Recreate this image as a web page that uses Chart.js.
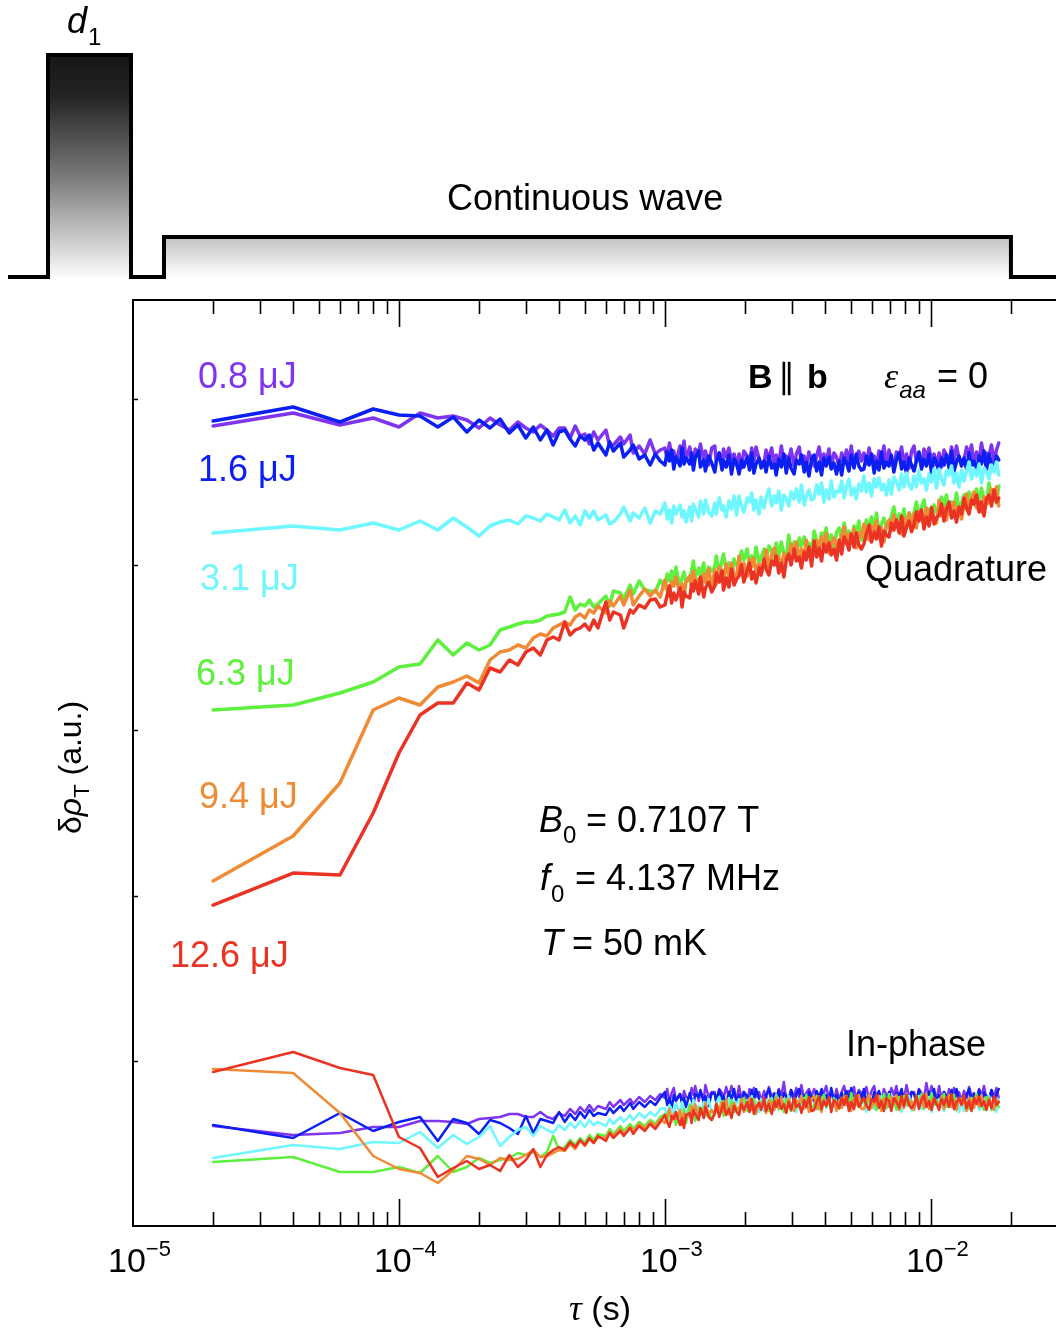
<!DOCTYPE html>
<html><head><meta charset="utf-8">
<script src="https://cdn.jsdelivr.net/npm/chart.js@4.4.1/dist/chart.umd.min.js"></script>
<style>
html,body{margin:0;padding:0;background:#fff;overflow:hidden;width:1056px;height:1329px;}
#wrap{position:absolute;left:0;top:0;width:1100px;height:1329px;}
</style></head><body>
<div id="wrap"><canvas id="c" width="1100" height="1329"></canvas></div>
<script>
// delay time tau in microseconds (sampling grid)
const tauUs = [20,40,60,80,100,120,140,160,180,200,
220,240,260,280,300,320,340,360,380,400,
420,440,460,480,500,520,540,560,
600,620,640,680,700,740,760,800,840,880,
920,960,
1000,1020,1040,1060,1080,1100,1140,1160,1180,1200,
1240,1260,1280,1300,1340,1360,1400,1420,1460,1500,
1540,1560,1600,1640,1660,1700,1740,1780,1820,1860,
1900,1940,1980,2040,2080,2120,2160,2200,2260,2300,
2360,2400,2460,2520,2580,2620,2680,2740,2800,2860,
2920,2980,3060,3120,3200,3260,3340,3400,3480,3560,
3640,3720,3800,3880,3960,4040,4140,4220,4320,4420,
4520,4620,4720,4820,4920,5020,5140,5240,5360,5480,
5600,5720,5860,5980,6120,6240,6380,6520,6660,6800,
6960,7100,7260,7420,7600,7760,7920,8100,8280,8460,
8640,8820,9020,9220,9420,9620,9840,10060,10280,10500,
10740,10960,11200,11440,11700,11960,12220,12480,12760,13040,
13320,13620,13920,14220,14520,14840,15180,15500,15840,16180,
16540,16900,17280,17640,18000];

const energies = ['0.8 μJ','1.6 μJ','3.1 μJ','6.3 μJ','9.4 μJ','12.6 μJ'];
const colors = ['#7f35f0','#0b1ff2','#6ff7ff','#5df03c','#f08b35','#eb3324'];

// Quadrature signal (a.u.)
const q08 = [800,813,801,808,799,813,808,810,806,798,
808,801,796,804,798,794,801,796,790,798,
798,788,800,790,792,782,794,786,
796,780,781,789,782,791,773,780,772,786,
772,776,
778,767,783,771,775,764,780,772,785,766,
779,769,763,777,773,782,765,775,761,778,
780,764,773,760,777,769,778,766,772,761,
772,758,775,770,762,778,765,779,767,763,
763,776,767,778,759,771,762,780,764,770,
766,777,760,772,779,763,770,759,774,767,
760,770,779,762,772,765,777,758,773,769,
759,773,766,776,763,780,760,769,775,765,
773,762,778,766,770,759,775,767,780,761,
776,766,760,774,770,779,762,772,758,775,
780,764,773,760,777,769,778,766,772,761,
773,759,776,771,763,779,766,780,768,764,
766,779,770,781,762,774,765,783,767,773,
770,781,764,776,783];
const q16 = [805,819,804,817,811,810,799,809,794,806,
798,807,793,801,788,799,786,796,781,794,
796,787,780,790,786,791,776,783,
771,784,775,783,769,776,781,767,771,761,
772,765,
761,774,765,776,757,769,760,778,762,768,
762,773,756,768,775,759,766,755,770,763,
754,764,773,756,766,759,771,752,767,763,
752,766,759,769,756,773,753,762,768,758,
765,754,770,758,762,751,767,759,772,753,
768,758,752,766,762,771,754,764,750,767,
771,755,764,751,768,760,769,757,763,752,
765,751,768,763,755,771,758,772,760,756,
757,770,761,772,753,765,756,774,758,764,
760,771,754,766,773,757,764,753,768,761,
755,765,774,757,767,760,772,753,768,764,
754,768,761,771,758,775,755,764,770,760,
768,757,773,761,765,754,770,762,775,756,
772,762,756,770,766];
const q31 = [693,700,696,703,696,705,696,708,699,690,
700,704,706,702,710,708,705,712,709,706,
716,703,710,701,715,708,715,706,
711,702,704,712,719,705,713,708,718,703,
715,712,
723,707,716,703,720,712,721,709,715,704,
719,705,722,717,709,725,712,726,714,710,
723,712,728,716,720,709,725,717,730,711,
730,720,714,728,724,733,716,726,712,729,
718,728,737,720,730,723,735,716,731,727,
720,734,727,737,724,741,721,730,736,726,
728,741,732,743,724,736,727,745,729,735,
734,745,728,740,747,731,738,727,742,735,
750,734,743,730,747,739,748,736,742,731,
746,732,749,744,736,752,739,753,741,737,
750,739,755,743,747,736,752,744,757,738,
757,747,741,755,751,760,743,753,739,756,
745,755,764,747,757,750,762,743,758,754,
747,761,754,764,751];
const q63 = [516,521,533,544,559,562,586,571,583,576,
581,596,599,602,604,604,606,610,611,612,
614,629,616,622,620,626,619,622,
630,620,635,633,627,641,632,645,636,635,
634,646,
638,652,645,655,642,659,639,648,654,644,
646,656,665,648,658,651,663,644,659,655,
659,670,653,665,672,656,663,652,667,660,
662,675,666,677,658,670,661,679,663,669,
677,663,680,675,667,683,670,684,672,668,
691,675,684,671,688,680,689,677,683,672,
695,685,679,693,689,698,681,691,677,694,
698,687,703,691,695,684,700,692,705,686,
692,706,699,709,696,713,693,702,708,698,
700,710,719,702,712,705,717,698,713,709,
713,724,707,719,726,710,717,706,721,714,
716,729,720,731,712,724,715,733,717,723,
731,717,734,729,721,737,724,738,726,722,
743,727,736,723,740];
const q94 = [345,390,443,516,528,521,539,544,550,543,
566,574,576,581,578,588,592,590,598,601,
604,601,609,612,608,616,613,620,
613,625,620,630,621,636,621,630,637,630,
636,629,
646,636,630,644,640,649,632,642,628,645,
650,639,655,643,647,636,652,644,657,638,
656,642,659,654,646,662,649,663,651,647,
670,654,663,650,667,659,668,656,662,651,
665,676,659,671,678,662,669,658,673,666,
669,682,673,684,665,677,668,686,670,676,
672,686,679,689,676,693,673,682,688,678,
680,690,699,682,692,685,697,678,693,689,
702,692,686,700,696,705,688,698,684,701,
706,695,711,699,703,692,708,700,713,694,
712,698,715,710,702,718,705,719,707,703,
726,710,719,706,723,715,724,712,718,707,
721,732,715,727,734,718,725,714,729,722,
724,737,728,739,720];
const q126 = [321,353,351,413,473,511,523,523,543,536,
558,554,566,561,574,578,571,586,589,586,
604,591,596,598,602,596,606,598,
624,606,614,611,598,616,613,621,618,626,
627,619,
621,631,640,623,633,626,638,619,634,630,
628,642,635,645,632,649,629,638,644,634,
640,653,644,655,636,648,639,657,641,647,
650,661,644,656,663,647,654,643,658,651,
667,657,651,665,661,670,653,663,649,666,
672,661,677,665,669,658,674,666,679,660,
685,669,678,665,682,674,683,671,677,666,
686,672,689,684,676,692,679,693,681,677,
682,692,701,684,694,687,699,680,695,691,
689,703,696,706,693,710,690,699,705,695,
701,714,705,716,697,709,700,718,702,708,
711,722,705,717,724,708,715,704,719,712,
728,718,712,726,722,731,714,724,710,727,
731,720,736,724,728];

// In-phase signal (a.u.)
const i08 = [100,91,93,99,99,105,105,104,102,107,
108,109,112,112,109,109,114,109,107,113,
110,117,112,119,114,121,115,120,
117,124,119,126,121,127,122,129,124,130,
126,132,
128,137,124,133,138,126,132,123,135,129,
128,138,131,140,125,134,127,141,129,134,
134,124,137,133,127,139,129,140,130,127,
140,127,134,124,137,131,138,129,134,125,
135,127,139,130,133,124,137,130,144,126,
125,136,130,138,128,141,126,133,137,130,
137,130,125,136,133,140,127,134,124,137,
126,134,140,127,135,130,139,124,136,133,
130,139,126,135,140,128,134,125,137,131,
128,138,131,140,125,134,127,141,129,134,
134,124,137,133,127,143,129,140,130,127,
140,127,134,124,137,131,138,129,134,125,
135,127,139,130,133,124,137,130,140,126,
125,136,130,138,128];
const i16 = [101,88,113,95,104,109,85,107,103,92,
106,103,98,92,110,93,107,105,103,114,
104,112,106,114,108,116,110,113,
111,118,113,120,115,123,117,124,119,125,
121,128,
134,121,128,118,131,125,132,123,128,119,
133,126,121,132,129,136,123,130,120,133,
132,124,136,127,130,121,134,127,137,123,
131,121,134,130,124,136,126,137,127,124,
123,131,137,124,132,127,136,121,133,130,
127,136,123,132,137,125,131,122,134,128,
125,135,128,137,122,131,124,138,126,131,
122,133,127,135,125,138,123,130,134,127,
137,124,131,121,134,128,135,126,131,122,
134,127,122,133,130,137,124,131,121,134,
132,124,136,127,130,121,134,127,137,123,
131,121,134,130,124,136,126,137,127,124,
123,131,137,124,132,127,136,121,133,130,
127,136,123,132,137];
const i31 = [68,81,77,84,83,94,78,91,82,89,
100,80,89,96,99,90,100,96,93,101,
96,103,98,105,99,106,101,104,
100,107,102,109,104,111,106,113,108,114,
110,117,
118,108,121,117,111,123,113,124,114,111,
122,114,126,117,120,111,124,117,127,113,
115,123,129,116,124,119,128,113,125,122,
127,120,115,126,123,130,117,124,114,127,
115,126,120,128,118,131,116,123,127,120,
130,117,124,114,127,121,128,119,124,115,
120,129,116,125,130,118,124,115,127,121,
118,128,121,130,115,124,117,131,119,124,
124,114,127,123,117,129,119,130,120,117,
125,117,129,120,123,114,127,120,130,116,
116,124,130,117,125,120,129,114,126,123,
127,120,115,126,123,130,117,124,114,127,
115,126,120,128,118,131,116,123,127,120,
130,117,124,114,127];
const i63 = [64,69,54,54,59,53,70,54,59,68,
63,66,68,73,71,74,69,74,90,76,
79,86,81,88,83,91,86,92,
90,97,92,100,95,102,97,104,100,106,
102,109,
112,104,116,107,110,101,114,107,117,103,
121,108,115,105,118,112,119,110,115,106,
113,123,116,125,110,119,112,126,114,119,
114,122,128,115,123,118,127,112,124,121,
127,120,115,126,123,130,117,124,114,127,
125,115,128,124,118,130,120,131,121,118,
121,130,117,126,131,119,125,116,128,122,
117,128,122,130,120,133,118,125,129,122,
127,119,131,122,125,116,129,122,132,118,
132,119,126,116,129,123,130,121,126,117,
120,130,123,132,117,126,119,133,121,126,
118,126,132,119,127,122,131,116,128,125,
129,122,117,128,125,132,119,126,116,129,
126,116,129,125,119];
const i94 = [157,153,113,70,57,53,43,56,70,67,
61,68,66,67,71,76,69,70,73,76,
75,82,77,85,80,87,83,89,
88,94,90,97,92,99,95,102,97,104,
100,107,
103,111,117,104,112,107,116,101,113,110,
110,120,113,122,107,116,109,123,111,116,
111,122,116,124,114,127,112,119,123,116,
118,127,114,123,128,116,122,113,125,119,
123,113,126,122,116,128,118,129,119,116,
127,120,115,126,123,130,117,124,114,127,
130,117,124,114,127,121,128,119,124,115,
126,118,130,121,124,115,128,121,131,117,
117,125,131,118,126,121,130,115,127,124,
119,129,122,131,116,125,118,132,120,125,
116,127,121,129,119,132,117,124,128,121,
121,130,117,126,131,119,125,116,128,122,
125,115,128,124,118,130,120,131,121,118,
128,121,116,127,124];
const i126 = [154,174,158,151,89,78,49,58,65,57,
61,55,71,59,66,77,59,71,76,79,
76,84,79,86,81,88,83,90,
85,93,88,95,90,98,92,100,95,102,
97,104,
111,104,99,110,107,114,101,108,98,111,
113,103,116,112,106,118,108,119,109,106,
113,122,109,118,123,111,117,108,120,114,
111,122,116,124,114,127,112,119,123,116,
128,115,122,112,125,119,126,117,122,113,
124,116,128,119,122,113,126,119,129,115,
116,124,130,117,125,120,129,114,126,123,
118,128,121,130,115,124,117,131,119,124,
128,121,116,127,124,131,118,125,115,128,
125,115,128,124,118,130,120,131,121,118,
121,130,117,126,131,119,125,116,128,122,
116,127,121,129,119,132,117,124,128,121,
131,118,125,115,128,122,129,120,125,116,
126,118,130,121,124];

const xMajorTicks = [1e-5, 1e-4, 1e-3, 1e-2];
const xTickExp = ['−5', '−4', '−3', '−2'];
const yTicks = [165, 330, 496, 661, 827];

const quad = [q08, q16, q31, q63, q94, q126];
const inph = [i08, i16, i31, i63, i94, i126];
const tau = tauUs.map(t => t * 1e-6);
const pts = arr => arr.map((v, i) => ({x: tau[i], y: v}));

const datasets = [];
quad.forEach((arr, k) => datasets.push({
  label: 'Quadrature ' + energies[k], data: pts(arr), borderColor: colors[k],
  borderWidth: 3.5, pointRadius: 0, fill: false, order: 6 - k
}));
inph.forEach((arr, k) => datasets.push({
  label: 'In-phase ' + energies[k], data: pts(arr), borderColor: colors[k],
  borderWidth: 2.5, pointRadius: 0, fill: false, order: 12 - k
}));

const SANS = '"Liberation Sans", Arial, Helvetica, sans-serif';
const SERIF = '"Liberation Serif", "Times New Roman", serif';
function T(ctx, s, x, y, font, color) {
  ctx.font = font; ctx.fillStyle = color || '#000';
  ctx.textAlign = 'left'; ctx.textBaseline = 'alphabetic';
  ctx.fillText(s, x, y);
  return ctx.measureText(s).width;
}

const deco = {
  id: 'deco',
  beforeDraw(chart) {
    const ctx = chart.ctx;
    ctx.save();
    ctx.fillStyle = '#fff'; ctx.fillRect(0, 0, chart.width, chart.height);
    // pulse sequence schematic
    const base = 277;
    let g = ctx.createLinearGradient(0, 55, 0, base);
    g.addColorStop(0, '#161616'); g.addColorStop(0.18, '#232323');
    g.addColorStop(0.55, '#7a7a7a'); g.addColorStop(1, '#fbfbfb');
    ctx.fillStyle = g; ctx.fillRect(48, 55, 83, base - 55);
    const xEnd = chart.scales.x.getPixelForValue(2e-2);
    let g2 = ctx.createLinearGradient(0, 237, 0, base);
    g2.addColorStop(0, '#c2c2c2'); g2.addColorStop(1, '#ffffff');
    ctx.fillStyle = g2; ctx.fillRect(164, 237, xEnd - 164, base - 237);
    ctx.beginPath();
    ctx.moveTo(8, base); ctx.lineTo(48, base); ctx.lineTo(48, 55); ctx.lineTo(131, 55);
    ctx.lineTo(131, base); ctx.lineTo(164, base); ctx.lineTo(164, 237); ctx.lineTo(xEnd, 237);
    ctx.lineTo(xEnd, base); ctx.lineTo(1100, base);
    ctx.lineWidth = 4; ctx.strokeStyle = '#000'; ctx.lineJoin = 'miter'; ctx.stroke();
    let w = T(ctx, 'd', 67, 33, 'italic 36px ' + SANS);
    T(ctx, '1', 67 + w + 1, 45, '24px ' + SANS);
    T(ctx, 'Continuous wave', 447, 210, '36px ' + SANS);
    ctx.restore();
  },
  afterDraw(chart) {
    const ctx = chart.ctx, a = chart.chartArea, xs = chart.scales.x, ys = chart.scales.y;
    ctx.save();
    ctx.strokeStyle = '#000'; ctx.lineWidth = 2;
    ctx.beginPath();
    ctx.moveTo(1100, a.top); ctx.lineTo(a.left, a.top); ctx.lineTo(a.left, a.bottom); ctx.lineTo(1100, a.bottom);
    ctx.stroke();
    // ticks (inward)
    ctx.lineWidth = 1.6;
    ctx.beginPath();
    for (let d = -5; d <= -2; d++) {
      for (let k = 1; k <= 9; k++) {
        const v = k * Math.pow(10, d);
        if (v > xs.max) continue;
        if (k === 1 && d === -5) continue;
        const px = Math.round(xs.getPixelForValue(v)) + 0.5;
        const len = k === 1 ? 27 : 14;
        ctx.moveTo(px, a.bottom); ctx.lineTo(px, a.bottom - len);
        ctx.moveTo(px, a.top); ctx.lineTo(px, a.top + len);
      }
    }
    yTicks.forEach(v => {
      const py = Math.round(ys.getPixelForValue(v)) + 0.5;
      ctx.moveTo(a.left, py); ctx.lineTo(a.left + 5, py);
    });
    ctx.stroke();
    // x tick labels
    xMajorTicks.forEach((v, i) => {
      const px = xs.getPixelForValue(v);
      const w1 = T(ctx, '10', px - 25, 1272, '34px ' + SANS);
      T(ctx, xTickExp[i], px - 25 + w1, 1256, '22px ' + SANS);
    });
    // x title
    let w = T(ctx, 'τ', 569, 1320, 'italic 36px ' + SERIF);
    T(ctx, ' (s)', 569 + w, 1320, '34px ' + SANS);
    // y title
    ctx.save();
    ctx.translate(81, 834); ctx.rotate(-Math.PI / 2);
    let xx = 0;
    xx += T(ctx, 'δ', xx, 0, '32px ' + SANS);
    xx += T(ctx, 'ρ', xx, 0, 'italic 32px ' + SANS);
    xx += T(ctx, 'T', xx, 8, '22px ' + SANS);
    T(ctx, ' (a.u.)', xx, 0, '32px ' + SANS);
    ctx.restore();
    // energy labels
    const lab = [[198, 388], [198, 481], [200, 590], [196, 685], [199, 808], [170, 967]];
    energies.forEach((s, k) => T(ctx, s, lab[k][0], lab[k][1], '36px ' + SANS, colors[k]));
    // annotations
    T(ctx, 'Quadrature', 865, 581, '36px ' + SANS);
    T(ctx, 'In-phase', 846, 1056, '36px ' + SANS);
    T(ctx, 'B', 748, 388, 'bold 34px ' + SANS);
    T(ctx, '∥', 778, 388, '34px ' + SANS);
    T(ctx, 'b', 807, 388, 'bold 34px ' + SANS);
    w = T(ctx, 'ε', 884, 388, 'italic 36px ' + SERIF);
    T(ctx, 'aa', 884 + w + 1, 398, 'italic 24px ' + SANS);
    T(ctx, '= 0', 937, 388, '36px ' + SANS);
    w = T(ctx, 'B', 539, 832, 'italic 36px ' + SANS);
    T(ctx, '0', 539 + w, 843, '24px ' + SANS);
    T(ctx, '= 0.7107 T', 586, 832, '36px ' + SANS);
    w = T(ctx, 'f', 540, 890, 'italic 36px ' + SANS);
    T(ctx, '0', 540 + w + 1, 902, '24px ' + SANS);
    T(ctx, '= 4.137 MHz', 575, 890, '36px ' + SANS);
    T(ctx, 'T', 541, 955, 'italic 36px ' + SANS);
    T(ctx, '= 50 mK', 572, 955, '36px ' + SANS);
    ctx.restore();
  }
};

new Chart(document.getElementById('c'), {
  type: 'line',
  data: { datasets },
  plugins: [deco],
  options: {
    responsive: false, animation: false, devicePixelRatio: 1, events: [],
    layout: { padding: { left: 0, top: 300, right: 9, bottom: 103 } },
    plugins: { legend: { display: false }, tooltip: { enabled: false } },
    elements: { line: { tension: 0, borderJoinStyle: 'round', borderCapStyle: 'round' }, point: { radius: 0 } },
    scales: {
      x: { type: 'logarithmic', min: 1e-5, max: 0.04, grid: { display: false }, border: { display: false },
           ticks: { display: false }, afterFit: s => { s.height = 0; } },
      y: { type: 'linear', min: 0, max: 926, grid: { display: false }, border: { display: false },
           ticks: { display: false }, afterFit: s => { s.width = 133; } }
    }
  }
});
</script>
</body></html>
